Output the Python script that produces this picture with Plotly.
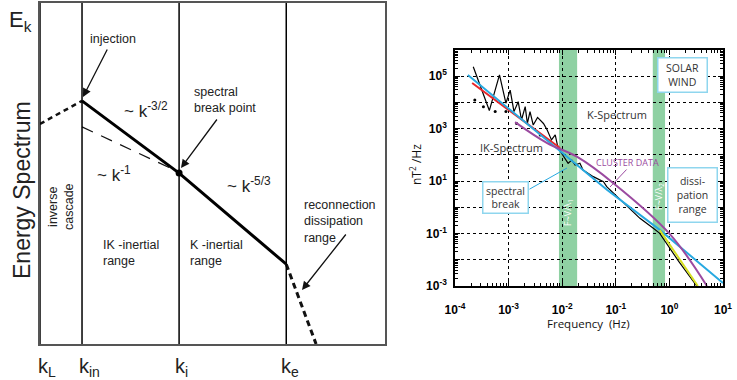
import plotly.graph_objects as go

W, H = 737, 380

# ---------------- Left panel: schematic spectrum (schematic units) ----------------
k_labels = ["k<sub>L</sub>", "k<sub>in</sub>", "k<sub>i</sub>", "k<sub>e</sub>"]
k_pos = [0.0, 1.0, 3.31, 5.86]

inertial_k = [1.0, 3.31, 5.86]
inertial_E = [5.79, 4.07, 1.90]
inverse_k = [0.0, 1.0]
inverse_E = [5.24, 5.79]
slope1_k = [1.0, 3.10]
slope1_E = [5.17, 4.19]
diss_k = [5.86, 6.57]
diss_E = [1.90, 0.0]
break_k = [3.31]
break_E = [4.07]

# ---------------- Right panel: solar wind spectrum ----------------
black_f = [2.19e-4, 4.37e-4, 6.76e-4, 8.91e-4, 1.07e-3, 1.26e-3, 1.51e-3, 1.74e-3,
           2.04e-3, 2.24e-3, 2.51e-3, 2.88e-3, 3.47e-3, 4.47e-3, 5.25e-3, 6.31e-3,
           7.41e-3, 8.13e-3, 9.33e-3, 1.07e-2, 1.29e-2, 1.51e-2, 1.74e-2, 2.14e-2,
           2.45e-2, 3.80e-2, 5.89e-2, 6.76e-2, 0.105, 0.158, 0.282, 0.501, 0.661,
           1.48, 3.24]
black_p = [2.29e5, 4.90e3, 1.12e5, 9.33e3, 2.95e4, 4.47e3, 1.07e4, 2.14e3,
           6.92e3, 1.58e3, 4.47e3, 1.38e3, 2.69e3, 1.58e3, 891, 372,
           575, 240, 132, 85.1, 47.9, 63.1, 40.7, 47.9,
           26.3, 14.8, 9.55, 6.17, 2.57, 1.23, 0.380, 0.158, 0.102,
           8.9e-3, 1.0e-3]
dots_f = [2.34e-4, 3.39e-4, 5.62e-4, 8.91e-4, 1.41e-3, 3.89e-3]
dots_p = [1.23e4, 6.92e3, 4.47e3, 4.47e3, 1.58e3, 575]

blue_f = [1.74e-4, 6.92e-2, 0.661, 10.0]
blue_p = [1.12e5, 4.57, 0.138, 1.29e-3]
red_f = [2.09e-4, 9.12e-3]
red_p = [5.50e4, 182]
purple_f = [1.32e-3, 5.25e-3, 1.91e-2, 8.91e-2, 1.02, 5.01]
purple_p = [1.78e3, 282, 83.2, 8.51, 9.55e-2, 1.0e-3]
yellow_f = [0.661, 3.39]
yellow_p = [0.135, 1.0e-3]

band_lo = [8.7e-3, 0.49]
band_hi = [1.9e-2, 0.83]
band_text = ["F~V/λ<sub>1</sub>", "F~V/λ<sub>2</sub>"]

x_tickvals = [1e-4, 1e-3, 1e-2, 1e-1, 1e0, 1e1]
x_ticktext = ["10<sup>-4</sup>", "10<sup>-3</sup>", "10<sup>-2</sup>",
              "10<sup>-1</sup>", "10<sup>0</sup>", "10<sup>1</sup>"]
y_tickvals = [1e-3, 1e-2, 1e-1, 1e0, 1e1, 1e2, 1e3, 1e4, 1e5, 1e6]
y_ticktext = ["10<sup>-3</sup>", " ", "10<sup>-1</sup>", " ", "10<sup>1</sup>", " ",
              "10<sup>3</sup>", " ", "10<sup>5</sup>", " "]


def PX(x):
    return x / W


def PY(y):
    return 1 - y / H


fig = go.Figure()

# ---- left panel traces
fig.add_trace(go.Scatter(x=inverse_k, y=inverse_E, mode="lines",
                         line=dict(color="#111", width=2.5, dash="5px,4px"),
                         xaxis="x", yaxis="y", hoverinfo="skip"))
fig.add_trace(go.Scatter(x=slope1_k, y=slope1_E, mode="lines",
                         line=dict(color="#111", width=1.2, dash="12px,9px"),
                         xaxis="x", yaxis="y", hoverinfo="skip"))
fig.add_trace(go.Scatter(x=inertial_k, y=inertial_E, mode="lines",
                         line=dict(color="#000", width=3),
                         xaxis="x", yaxis="y", hoverinfo="skip"))
fig.add_trace(go.Scatter(x=diss_k, y=diss_E, mode="lines",
                         line=dict(color="#111", width=3, dash="6px,4px"),
                         xaxis="x", yaxis="y", hoverinfo="skip"))
fig.add_trace(go.Scatter(x=break_k, y=break_E, mode="markers",
                         marker=dict(color="#000", size=7),
                         xaxis="x", yaxis="y", hoverinfo="skip"))

# ---- right panel traces
fig.add_trace(go.Scatter(x=black_f, y=black_p, mode="lines",
                         line=dict(color="#000", width=1.2),
                         xaxis="x2", yaxis="y2", hoverinfo="skip"))
fig.add_trace(go.Scatter(x=dots_f, y=dots_p, mode="markers",
                         marker=dict(color="#000", size=3),
                         xaxis="x2", yaxis="y2", hoverinfo="skip"))
fig.add_trace(go.Scatter(x=red_f, y=red_p, mode="lines",
                         line=dict(color="#e8262a", width=2),
                         xaxis="x2", yaxis="y2", hoverinfo="skip"))
fig.add_trace(go.Scatter(x=blue_f, y=blue_p, mode="lines",
                         line=dict(color="#27a9e1", width=2),
                         xaxis="x2", yaxis="y2", hoverinfo="skip"))
fig.add_trace(go.Scatter(x=purple_f, y=purple_p, mode="lines",
                         line=dict(color="#9b4aa0", width=2, shape="spline"),
                         xaxis="x2", yaxis="y2", hoverinfo="skip"))
fig.add_trace(go.Scatter(x=yellow_f, y=yellow_p, mode="lines",
                         line=dict(color="#d6e021", width=2),
                         xaxis="x2", yaxis="y2", hoverinfo="skip"))

shapes = []
# vertical k lines in left panel
for kp in k_pos:
    shapes.append(dict(type="line", xref="x", yref="y domain", x0=kp, x1=kp,
                       y0=0, y1=1, line=dict(color="#000", width=1.5)))
# green bands in right panel
for lo, hi in zip(band_lo, band_hi):
    shapes.append(dict(type="rect", xref="x2", yref="y2 domain", x0=lo, x1=hi,
                       y0=0, y1=1, fillcolor="#8fd1a3", line=dict(width=0),
                       layer="below"))

LF = "Liberation Sans, Arial, sans-serif"
RF = "Open Sans, sans-serif"
ann = []


def A(text, x, y, size=13, color="#222", font=LF, **kw):
    d = dict(text=text, x=PX(x), y=PY(y), xref="paper", yref="paper",
             xanchor="center", yanchor="middle",
             showarrow=False, font=dict(size=size, color=color, family=font))
    d.update(kw)
    ann.append(d)


def P(hx, hy, tx, ty, color, width=1, head=0, size=1):
    ann.append(dict(x=PX(hx), y=PY(hy), ax=tx - hx, ay=ty - hy, xref="paper", yref="paper",
                    axref="pixel", ayref="pixel", text="", showarrow=True, arrowhead=head,
                    arrowsize=size, arrowwidth=width, arrowcolor=color))


# left panel text
A("E<sub>k</sub>", 20, 21, size=22)
A("Energy Spectrum", 22, 190, size=23, textangle=-90)
for lab, xp in zip(k_labels, [47, 89, 181, 290]):
    A(lab, xp, 367, size=20)
A("injection", 113, 39, size=12.5)
A("~ k<sup>-3/2</sup>", 146, 110, size=17)
A("~ k<sup>-1</sup>", 114, 174, size=17)
A("~ k<sup>-5/3</sup>", 249, 185, size=17)
A("spectral<br>break point", 192, 100, size=12.5, xanchor="left", align="left")
A("inverse<br>cascade", 61, 207, size=12.5, textangle=-90)
A("IK -inertial<br>range", 101, 253, size=12.5, xanchor="left", align="left")
A("K -inertial<br>range", 188, 253, size=12.5, xanchor="left", align="left")
A("reconnection<br>dissipation<br>range", 302, 221, size=12.5, xanchor="left", align="left")

# left panel arrows
P(83, 97, 108, 48, "#111", width=1.3, head=2, size=1.3)
P(181, 168, 218, 118, "#111", width=1.3, head=2, size=1.3)
P(302, 290, 347, 233, "#111", width=1.3, head=2, size=1.3)

# right panel text
A("K-Spectrum", 617, 115, size=11, color="#333", font=RF)
A("IK-Spectrum", 512, 147, size=11, color="#333", font=RF)
A("CLUSTER DATA", 627, 162, size=9, color="#9b4aa0", font=RF)
A("SOLAR<br>WIND", 682.5, 75, size=10.5, color="#333", font=RF, bordercolor="#8fd6ee",
  borderwidth=1.5, borderpad=2, bgcolor="white", width=44, height=29)
A("spectral<br>break", 505.5, 197.5, size=10.5, color="#333", font=RF, bordercolor="#8fd6ee",
  borderwidth=1.5, borderpad=2, bgcolor="white", width=40, height=26)
A("dissi-<br>pation<br>range", 692.5, 195, size=10.5, color="#333", font=RF, bordercolor="#8fd6ee",
  borderwidth=1.5, borderpad=2, bgcolor="white", width=44, height=49)
A(band_text[0], 568, 213, size=9, color="white", font=RF, textangle=-90)
A(band_text[1], 659, 197, size=9, color="white", font=RF, textangle=-90)
A("nT<sup>2</sup> /Hz", 416, 165, size=12, color="#111", font=RF, textangle=-90)
A("Frequency  (Hz)", 588, 323, size=11.5, color="#111", font=RF)

# pointer lines right panel
P(567, 168, 528, 190, "#27a9e1")
P(610, 187, 628, 168, "#9b4aa0")

minor_x = [m * 10 ** e for e in range(-4, 1) for m in range(2, 10)]
minor_y = [m * 10 ** e for e in range(-3, 6) for m in range(2, 10)]

tickfont = dict(family=LF, size=12, color="#000", weight="bold")

fig.update_layout(
    width=W, height=H, margin=dict(l=0, r=0, t=0, b=0, pad=0, autoexpand=False),
    paper_bgcolor="white", plot_bgcolor="white", showlegend=False,
    shapes=shapes, annotations=ann,
    xaxis=dict(domain=[PX(40), PX(385)], range=[0, 8.21], showgrid=False, zeroline=False,
               showticklabels=False, ticks="", showline=True, mirror=True, automargin=False,
               linecolor="#555", linewidth=2),
    yaxis=dict(domain=[PY(344), PY(3)], range=[0, 8.12], showgrid=False, zeroline=False,
               showticklabels=False, ticks="", showline=True, mirror=True, automargin=False,
               linecolor="#555", linewidth=2),
    xaxis2=dict(domain=[PX(455), PX(723)], type="log", range=[-4, 1], anchor="y2",
                tickmode="array", tickvals=x_tickvals, ticktext=x_ticktext, automargin=False,
                ticks="inside", ticklen=5, tickcolor="#000", showline=True, mirror="ticks",
                linecolor="#000", linewidth=1.5, showgrid=True, gridcolor="#000",
                griddash="dot", gridwidth=1, zeroline=False, ticklabelstandoff=12,
                tickfont=tickfont,
                minor=dict(tickmode="array", tickvals=minor_x, ticks="inside", ticklen=3,
                           tickcolor="#000", showgrid=False)),
    yaxis2=dict(domain=[PY(286), PY(50)], type="log", range=[-3, 6], anchor="x2",
                tickmode="array", tickvals=y_tickvals, ticktext=y_ticktext, automargin=False,
                ticks="inside", ticklen=5, tickcolor="#000", showline=True, mirror="ticks",
                linecolor="#000", linewidth=1.5, showgrid=True, gridcolor="#000",
                griddash="dot", gridwidth=1, zeroline=False, ticklabelstandoff=4,
                tickfont=tickfont,
                minor=dict(tickmode="array", tickvals=minor_y, ticks="inside", ticklen=3,
                           tickcolor="#000", showgrid=False)),
)

fig.write_html("out.html", config={"displayModeBar": False},
               post_script="document.body.style.margin='0';document.body.style.overflow='hidden';")
